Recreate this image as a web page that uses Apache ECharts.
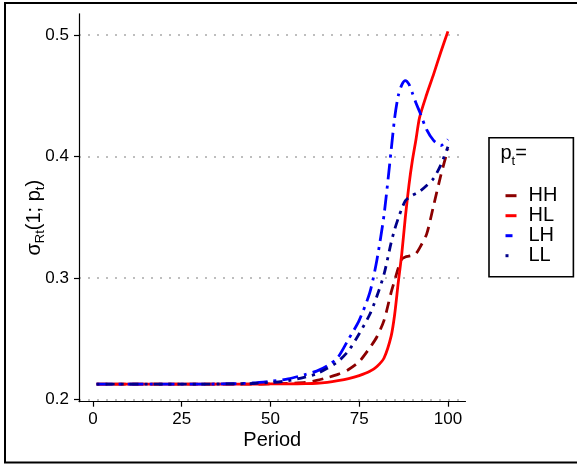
<!DOCTYPE html>
<html>
<head>
<meta charset="utf-8">
<script src="https://cdn.jsdelivr.net/npm/echarts@6/dist/echarts.min.js"></script>
<style>html,body{margin:0;padding:0;background:#fff}#c{width:577px;height:466px}</style>
</head>
<body>
<div id="c"></div>
<script>
// ---- data ----
const periods = [1, 10, 20, 30, 40, 45, 50, 55, 60, 63, 66, 69, 72, 75, 78, 80, 82, 84, 85, 86, 87, 88, 89, 90, 91, 92, 94, 96, 98, 100];
const seriesNames = ['HH', 'HL', 'LH', 'LL'];
const HH = [0.2125, 0.2125, 0.2125, 0.2125, 0.2125, 0.2125, 0.2127, 0.2131, 0.2139, 0.2155, 0.2178, 0.2205, 0.2245, 0.231, 0.2425, 0.2515, 0.265, 0.288, 0.298, 0.308, 0.3155, 0.3172, 0.3178, 0.3185, 0.320, 0.3245, 0.336, 0.360, 0.3845, 0.406];
const HL = [0.2125, 0.2125, 0.2125, 0.2125, 0.2125, 0.2125, 0.2126, 0.2127, 0.2129, 0.2132, 0.2140, 0.2153, 0.2170, 0.2195, 0.2230, 0.2270, 0.2340, 0.2520, 0.2700, 0.2960, 0.3200, 0.3500, 0.3760, 0.3970, 0.4140, 0.4320, 0.4510, 0.4680, 0.4860, 0.5030];
const LH = [0.2125, 0.2125, 0.2125, 0.2125, 0.2128, 0.2134, 0.2148, 0.2168, 0.2205, 0.2232, 0.2275, 0.2345, 0.2495, 0.2650, 0.2880, 0.3150, 0.3520, 0.4050, 0.4320, 0.4500, 0.4590, 0.4625, 0.4595, 0.4520, 0.4440, 0.4370, 0.4220, 0.4130, 0.4090, 0.4140];
const LL = [0.2125, 0.2125, 0.2125, 0.2125, 0.2127, 0.2130, 0.2138, 0.2152, 0.2185, 0.2210, 0.2255, 0.2310, 0.2400, 0.2540, 0.2700, 0.2850, 0.3030, 0.3290, 0.3400, 0.3490, 0.3570, 0.3635, 0.3660, 0.3680, 0.3695, 0.3710, 0.3760, 0.3820, 0.3930, 0.4080];
const xTicks = [0, 25, 50, 75, 100];
const yTicks = [0.2, 0.3, 0.4, 0.5];

const colors = {HH: '#8B0000', HL: '#FF0000', LH: '#0000FF', LL: '#00008B'};
const dashes = {HH: [11, 7], HL: 'solid', LH: [16, 6, 3, 6], LL: [3, 6, 9, 6]};
const legendDash = {HH: [11, 20], HL: 'solid', LH: [7, 20], LL: [3, 20]};
const values = {HH, HL, LH, LL};
const FONT = 'Liberation Sans, Arial, sans-serif';

const series = seriesNames.map(n => ({
  name: n,
  type: 'line',
  data: periods.map((p, i) => [p, values[n][i]]),
  showSymbol: false,
  symbol: 'none',
  smooth: 0.25,
  color: colors[n],
  lineStyle: {color: colors[n], width: 2.8, type: dashes[n], cap: 'butt', join: 'round'},
  emphasis: {disabled: true},
  z: 2
}));

const chart = echarts.init(document.getElementById('c'), null, {renderer: 'canvas'});
chart.setOption({
  animation: false,
  backgroundColor: '#fff',
  grid: {left: 79, right: 111.5, top: 13.75, bottom: 64.3, containLabel: false},
  xAxis: {
    type: 'value', min: -3.95, max: 104.95,
    name: 'Period', nameLocation: 'middle', nameGap: 29, nameMoveOverlap: false,
    nameTextStyle: {fontSize: 20, fontFamily: FONT, color: '#000'},
    axisLine: {show: true, onZero: false, lineStyle: {color: '#000', width: 1.2}},
    axisTick: {show: true, length: 5, lineStyle: {color: '#000', width: 1.2}, customValues: xTicks},
    axisLabel: {fontSize: 17, fontFamily: FONT, color: '#000', margin: 9, customValues: xTicks},
    splitLine: {show: false}
  },
  yAxis: {
    type: 'value', min: 0.198, max: 0.5175,
    name: '{m|σ}{s|Rt}{m|(1; p}{s|t}{e|)}', nameLocation: 'middle', nameRotate: 90, nameGap: 31, nameMoveOverlap: false,
    nameTextStyle: {
      fontFamily: FONT, color: '#000',
      rich: {
        m: {fontSize: 20, lineHeight: 24, verticalAlign: 'top', fontFamily: FONT, color: '#000', fontWeight: 'normal'},
        e: {fontSize: 20, lineHeight: 24, verticalAlign: 'top', fontFamily: FONT, color: '#000', fontWeight: 'normal', padding: [0, 20, 0, 0]},
        s: {fontSize: 13, lineHeight: 13, padding: [10, 0, 0, 0], verticalAlign: 'top', fontFamily: FONT, color: '#000', fontWeight: 'normal'}
      }
    },
    axisLine: {show: true, onZero: false, lineStyle: {color: '#000', width: 1.2}},
    axisTick: {show: true, length: 5, lineStyle: {color: '#000', width: 1.2}, customValues: yTicks},
    axisLabel: {fontSize: 17, fontFamily: FONT, color: '#000', margin: 10, customValues: yTicks,
      formatter: v => String(Math.round(v * 10) / 10)},
    splitLine: {show: true, lineStyle: {color: '#BEBEBE', width: 2, type: [2, 7]}}
  },
  title: {
    text: '{a|p}{b|t}{a|=}', left: 500.4, top: 143.6, padding: 0,
    textStyle: {
      fontWeight: 'normal',
      rich: {
        a: {fontSize: 20, lineHeight: 24, verticalAlign: 'top', fontFamily: FONT, color: '#000', fontWeight: 'normal'},
        b: {fontSize: 13, lineHeight: 13, padding: [11, 0, 0, 0], verticalAlign: 'top', fontFamily: FONT, color: '#000', fontWeight: 'normal'}
      }
    }
  },
  legend: {
    orient: 'vertical', left: 489, top: 137.7,
    padding: [48, 16, 11, 14],
    itemWidth: 11, itemHeight: 20, itemGap: 0,
    borderColor: '#000', borderWidth: 1.6,
    selectedMode: false,
    itemStyle: {opacity: 0},
    textStyle: {fontSize: 20, fontFamily: FONT, color: '#000', lineHeight: 20, padding: [0, 0, 0, 7]},
    data: seriesNames.map(n => ({name: n, lineStyle: {color: colors[n], width: 3, type: legendDash[n], cap: 'butt'}, itemStyle: {opacity: 0}}))
  },
  graphic: [{
    type: 'rect', silent: true, z: 100,
    shape: {x: 5, y: 3, width: 590, height: 459.5},
    style: {fill: 'none', stroke: '#000', lineWidth: 2}
  }],
  series: series
});
</script>
</body>
</html>
